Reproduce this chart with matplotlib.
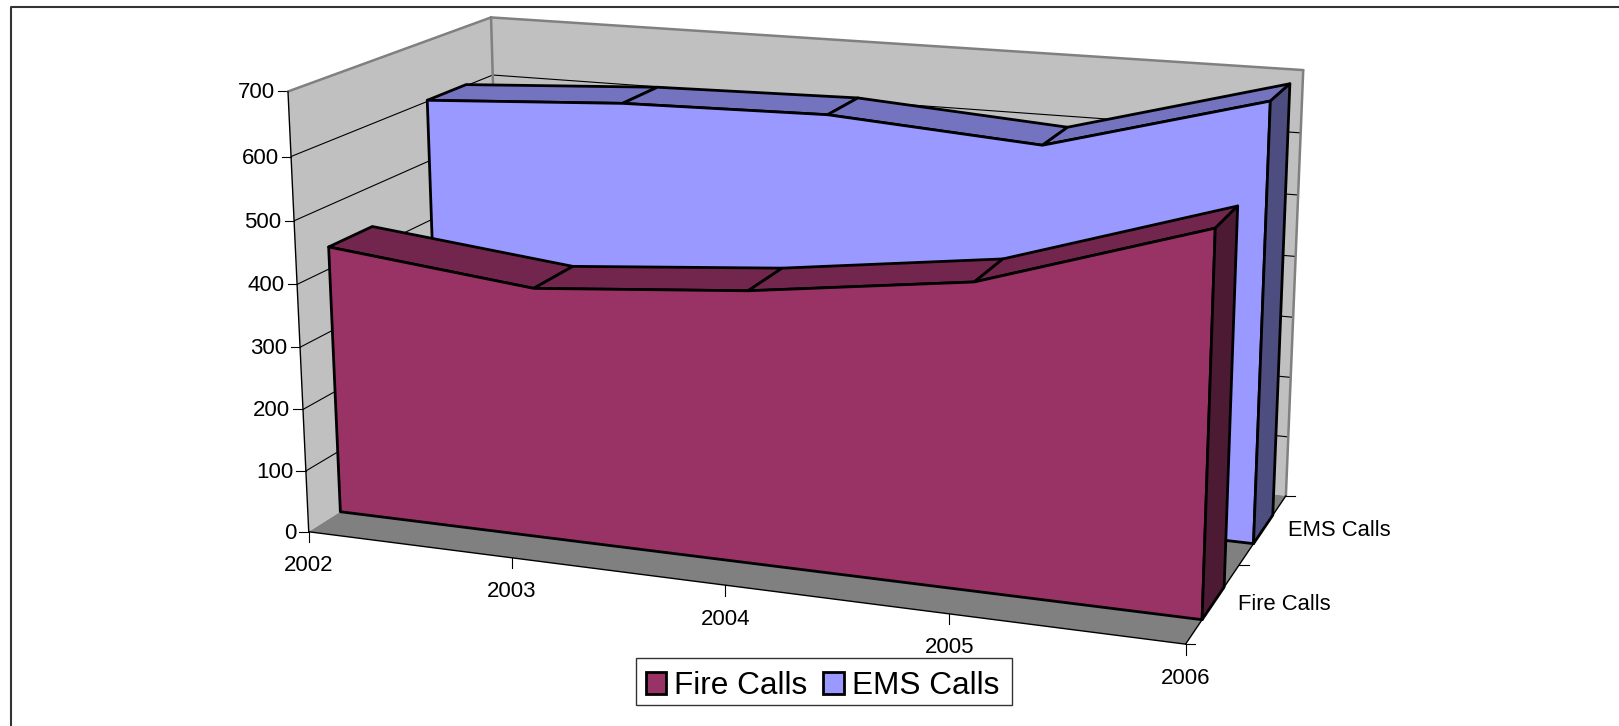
import numpy as np
from matplotlib import pyplot as plt
from matplotlib.patches import Patch, Rectangle

plt.rcParams['font.family'] = ['Liberation Sans', 'DejaVu Sans']

years = ['2002', '2003', '2004', '2005', '2006']
fire_calls = [435, 400, 428, 473, 582]
ems_calls = [602, 621, 627, 604, 697]
series_names = ['EMS Calls', 'Fire Calls']
value_ticks = [0, 100, 200, 300, 400, 500, 600, 700]

W, H = 1619, 726
vmax = 700.0

# frame corners of the 3d box: (x 0-1, depth 0-1, value) -> pixel in the picture
corners = [
    (0, 0, 0, 308.3, 531.7),
    (1, 0, 0, 1185.7, 644.0),
    (1, 1, 0, 1285.7, 496.0),
    (0, 1, 0, 503.0, 409.0),
    (0, 0, 1, 288.3, 91.7),
    (0, 1, 1, 490.7, 17.3),
    (1, 1, 1, 1303.3, 70.0),
]

rows = []
for X, Y, Z, u, v in corners:
    rows.append([X, Y, Z, 1, 0, 0, 0, 0, -u*X, -u*Y, -u*Z, -u])
    rows.append([0, 0, 0, 0, X, Y, Z, 1, -v*X, -v*Y, -v*Z, -v])
cam = np.linalg.svd(np.array(rows))[2][-1].reshape(3, 4)


def proj(x, y, val):
    p = cam @ np.array([x, y, val/vmax, 1.0])
    return p[0]/p[2], p[1]/p[2]


fig = plt.figure(figsize=(W/100, H/100), dpi=100)
ax = fig.add_axes([0, 0, 1, 1])
ax.set_xlim(0, W)
ax.set_ylim(H, 0)
ax.axis('off')

wall = '#C0C0C0'
floor = '#808080'
edge = '#808080'
fs = 16


def poly(pts, color, ec='none', lw=0, z=1):
    xy = [proj(*p) for p in pts]
    ax.fill([a[0] for a in xy], [a[1] for a in xy], facecolor=color, edgecolor=ec,
            linewidth=lw, zorder=z, joinstyle='round')


def line(a, b, color='black', lw=0.8, z=2):
    pa, pb = proj(*a), proj(*b)
    ax.plot([pa[0], pb[0]], [pa[1], pb[1]], color=color, lw=lw, zorder=z,
            solid_capstyle='round')


# outer border
ax.plot([10.5, 10.5, W], [H, 6.5, 6.5], color='#333333', lw=1.5, zorder=1)

# walls and floor
poly([(0, 0, 0), (0, 1, 0), (0, 1, vmax), (0, 0, vmax)], wall)
poly([(0, 1, 0), (1, 1, 0), (1, 1, vmax), (0, 1, vmax)], wall)
poly([(0, 0, 0), (1, 0, 0), (1, 1, 0), (0, 1, 0)], floor)

for v in value_ticks[1:-1]:
    line((0, 0, v), (0, 1, v))
    line((0, 1, v), (1, 1, v))
for v in value_ticks:
    p = proj(0, 0, v)
    ax.plot([p[0]-9.5, p[0]], [p[1], p[1]], color='black', lw=0.8, zorder=2)
    ax.text(p[0]-12.5, p[1]+1.5, str(v), ha='right', va='center', fontsize=fs, color='black')

line((0, 0, vmax), (0, 1, vmax), edge, 1.8)
line((0, 1, vmax), (1, 1, vmax), edge, 1.8)
line((1, 1, vmax), (1, 1, 0), edge, 1.8)
line((0, 1, vmax), (0, 1, 0), edge, 1.8)
line((0, 0, vmax), (0, 0, 0), 'black', 1.0)
line((0, 0, 0), (1, 0, 0), 'black', 1.0)
line((1, 0, 0), (1, 1, 0), 'black', 1.0)

# year axis
for i, yr in enumerate(years):
    x = i/(len(years)-1)
    p = proj(x, 0, 0)
    ax.plot([p[0], p[0]], [p[1], p[1]+10.5], color='black', lw=0.8, zorder=2)
    ax.text(p[0], p[1]+34, yr, ha='center', va='center', fontsize=fs, color='black')

# depth axis
for d in [0, 0.5, 1]:
    p = proj(1, d, 0)
    ax.plot([p[0], p[0]+9.5], [p[1], p[1]], color='black', lw=0.8, zorder=2)
for d, name in zip([0.75, 0.25], series_names):
    p = proj(1, d, 0)
    ax.text(p[0]+25, p[1]+1.5, name, ha='left', va='center', fontsize=15.8, color='black')


def area(vals, y0, y1, front, top, side, z):
    n = len(vals)
    xs = [i/(n-1) for i in range(n)]
    for i in range(n-1):
        poly([(xs[i], y0, vals[i]), (xs[i+1], y0, vals[i+1]),
              (xs[i+1], y1, vals[i+1]), (xs[i], y1, vals[i])], top, 'black', 2.0, z)
    outline = [(0, y0, 0)] + [(xs[i], y0, vals[i]) for i in range(n)] + [(1, y0, 0)]
    poly(outline, front, 'black', 2.0, z)
    poly([(1, y0, 0), (1, y0, vals[-1]), (1, y1, vals[-1]), (1, y1, 0)], side, 'black', 2.0, z)


area(ems_calls, 0.647, 0.853, '#9999FF', '#7373BF', '#4D4D80', 3)
area(fire_calls, 0.147, 0.353, '#993366', '#73264D', '#4D1A33', 4)

# legend box is drawn apart so the entries can sit a little low in it, as in the original
ax.add_patch(Rectangle((636, 658.3), 375.7, 46.7, facecolor='white', edgecolor='#333333',
                       linewidth=1, zorder=5))
handles = [Patch(facecolor='#993366', edgecolor='black', linewidth=2.0, label='Fire Calls'),
           Patch(facecolor='#9999FF', edgecolor='black', linewidth=2.0, label='EMS Calls')]
leg = ax.legend(handles=handles, ncol=2, loc='center', bbox_to_anchor=(822.5, 686),
                bbox_transform=ax.transData, fontsize=22.7, frameon=False,
                handlelength=0.66, handleheight=0.66,
                handletextpad=0.25, columnspacing=0.5, borderpad=0.3, borderaxespad=0)
leg.set_zorder(6)

fig.savefig('out.png', dpi=100)
